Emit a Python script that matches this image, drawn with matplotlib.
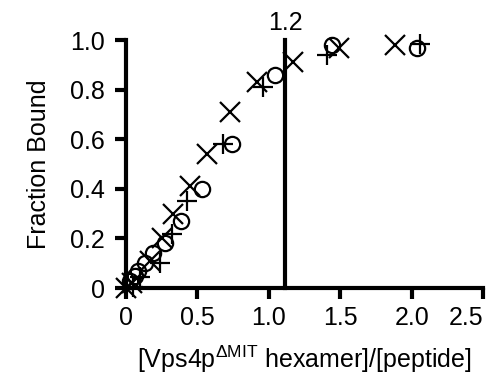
import matplotlib
matplotlib.use("Agg")
import matplotlib.pyplot as plt

# data
circ_x = [0.03, 0.06, 0.085, 0.13, 0.19, 0.27, 0.385, 0.53, 0.74, 1.04, 1.44, 2.04]
circ_y = [0.03, 0.05, 0.07, 0.10, 0.14, 0.18, 0.27, 0.40, 0.58, 0.86, 0.98, 0.97]
cross_x = [0.0, 0.04, 0.17, 0.25, 0.33, 0.45, 0.57, 0.73, 0.92, 1.17, 1.49, 1.88]
cross_y = [0.0, 0.02, 0.11, 0.20, 0.30, 0.41, 0.54, 0.71, 0.83, 0.91, 0.97, 0.98]
plus_x = [0.05, 0.10, 0.24, 0.32, 0.43, 0.68, 0.96, 1.41, 2.06]
plus_y = [0.005, 0.045, 0.10, 0.22, 0.35, 0.58, 0.81, 0.94, 0.985]
vline_x = 1.113
vline_label = "1.2"
xticks = [0, 0.5, 1.0, 1.5, 2.0, 2.5]
xticklabels = ["0", "0.5", "1.0", "1.5", "2.0", "2.5"]
yticks = [0, 0.2, 0.4, 0.6, 0.8, 1.0]
yticklabels = ["0", "0.2", "0.4", "0.6", "0.8", "1.0"]

plt.rcParams['font.family'] = ['Liberation Sans', 'DejaVu Sans']
plt.rcParams['mathtext.fontset'] = 'custom'
plt.rcParams['mathtext.rm'] = 'Liberation Sans'

fig = plt.figure(figsize=(4.98, 3.79), dpi=100)
ax = fig.add_axes([0.253, 0.240, 0.717, 0.654])

ax.plot(circ_x, circ_y, 'o', mfc='none', mec='black', ms=11, mew=1.6, clip_on=False)
ax.plot(cross_x, cross_y, 'x', color='black', ms=14, mew=1.6, clip_on=False)
ax.plot(plus_x, plus_y, '+', color='black', ms=14, mew=1.6, clip_on=False)

ax.plot([vline_x, vline_x], [0, 1.0], color='black', lw=3, clip_on=False)
ax.text(vline_x, 1.02, vline_label, ha='center', va='bottom', fontsize=18)

ax.set_xlim(0, 2.5)
ax.set_ylim(0, 1.0)
ax.set_xticks(xticks)
ax.set_xticklabels(xticklabels)
ax.set_yticks(yticks)
ax.set_yticklabels(yticklabels)
ax.tick_params(direction='out', length=8, width=3, labelsize=18)
ax.tick_params(axis='y', pad=7)
ax.tick_params(axis='x', pad=5)
# last x label sits just left of its tick so it stays inside the figure
ax.get_xticklabels()[-1].set_horizontalalignment('right')

for s in ['top', 'right']:
    ax.spines[s].set_visible(False)
for s in ['left', 'bottom']:
    ax.spines[s].set_linewidth(3)

ax.set_xlabel("[Vps4p$^{\\Delta\\mathrm{MIT}}$ hexamer]/[peptide]", fontsize=18, labelpad=10)
ax.set_ylabel("Fraction Bound", fontsize=18, labelpad=14)

fig.savefig("out.png", dpi=100)
